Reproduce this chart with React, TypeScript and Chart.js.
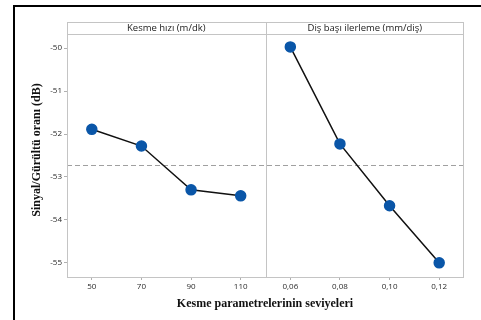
import React, { useEffect, useRef } from "react";
import { Chart, registerables } from "chart.js";

Chart.register(...registerables);

const speedLabels = ["50", "70", "90", "110"];
const feedLabels = ["0,06", "0,08", "0,10", "0,12"];
const speedSN = [-51.89, -52.28, -53.3, -53.44];
const feedSN = [-49.97, -52.23, -53.67, -55.0];
const yTicks = [-50, -51, -52, -53, -54, -55];
const panelTitles = ["Kesme hızı (m/dk)", "Diş başı ilerleme (mm/diş)"];
const xTitle = "Kesme parametrelerinin seviyeleri";
const yTitle = "Sinyal/Gürültü oranı (dB)";

const allLabels = [...speedLabels, ...feedLabels];
const allValues = [...speedSN, ...feedSN];
const mean = allValues.reduce((a, b) => a + b, 0) / allValues.length;

const panelPlugin = {
  id: "panels",
  beforeDraw(chart: any) {
    const ctx = chart.ctx;
    const { left, right } = chart.chartArea;
    ctx.save();
    ctx.fillStyle = "#fff";
    ctx.fillRect(0, 0, chart.width, chart.height);
    ctx.strokeStyle = "#000";
    ctx.lineWidth = 2;
    ctx.strokeRect(14, 6, 600, 600);
    const ym = chart.scales.y.getPixelForValue(mean);
    ctx.strokeStyle = "#a0a0a0";
    ctx.lineWidth = 1;
    ctx.setLineDash([5, 3]);
    ctx.beginPath();
    ctx.moveTo(left, Math.round(ym) + 0.5);
    ctx.lineTo(right, Math.round(ym) + 0.5);
    ctx.stroke();
    ctx.restore();
  },
  afterDraw(chart: any) {
    const ctx = chart.ctx;
    const { left, right, top, bottom } = chart.chartArea;
    const x = chart.scales.x;
    const mid = (x.getPixelForValue(speedLabels.length - 1) + x.getPixelForValue(speedLabels.length)) / 2;
    const stripTop = top - 12;
    ctx.save();
    ctx.strokeStyle = "#c4c4c4";
    ctx.lineWidth = 1;
    ctx.setLineDash([]);
    const L = Math.round(left) + 0.5;
    const R = Math.round(right) - 0.5;
    const T = Math.round(stripTop) + 0.5;
    const B = Math.round(bottom) + 0.5;
    const M = Math.round(mid) + 0.5;
    ctx.strokeRect(L, T, R - L, B - T);
    ctx.beginPath();
    ctx.moveTo(L, Math.round(top) + 0.5);
    ctx.lineTo(R, Math.round(top) + 0.5);
    ctx.moveTo(M, T);
    ctx.lineTo(M, B);
    ctx.stroke();
    ctx.fillStyle = "#1a1a1a";
    ctx.font = "9.5px 'Open Sans'";
    ctx.textAlign = "center";
    ctx.textBaseline = "middle";
    ctx.fillText(panelTitles[0], (left + mid) / 2, stripTop + 6.5);
    ctx.fillText(panelTitles[1], (mid + right) / 2, stripTop + 6.5);
    ctx.fillStyle = "#111";
    ctx.font = "bold 12px 'Liberation Serif'";
    ctx.fillText(xTitle, 265, 304);
    ctx.translate(37, 150);
    ctx.rotate(-Math.PI / 2);
    ctx.fillText(yTitle, 0, 0);
    ctx.restore();
  },
};

export default function App() {
  const ref = useRef<HTMLCanvasElement>(null);
  useEffect(() => {
    if (!ref.current) return;
    const chart = new Chart(ref.current, {
      type: "line",
      data: {
        labels: allLabels,
        datasets: [
          {
            data: [...speedSN, null, null, null, null],
            borderColor: "#111",
            borderWidth: 1.5,
            pointBackgroundColor: "#0a56a8",
            pointBorderColor: "#0a56a8",
            pointRadius: 5,
            spanGaps: false,
          },
          {
            data: [null, null, null, null, ...feedSN],
            borderColor: "#111",
            borderWidth: 1.5,
            pointBackgroundColor: "#0a56a8",
            pointBorderColor: "#0a56a8",
            pointRadius: 5,
            spanGaps: false,
          },
        ],
      },
      options: {
        responsive: false,
        animation: false,
        layout: { padding: { left: 0, right: 17, top: 34, bottom: 0 } },
        plugins: { legend: { display: false }, tooltip: { enabled: false } },
        scales: {
          x: {
            offset: true,
            border: { display: false },
            grid: { drawOnChartArea: false, tickLength: 3, color: "#b0b0b0" },
            ticks: { color: "#2a2a2a", font: { family: "Open Sans", size: 8 }, padding: 2, maxRotation: 0 },
            afterFit: (s: any) => { s.height = 43; },
          },
          y: {
            min: -55.33,
            max: -49.67,
            border: { display: false },
            grid: { drawOnChartArea: false, tickLength: 3, color: "#b0b0b0" },
            ticks: { color: "#2a2a2a", font: { family: "Open Sans", size: 8 }, padding: 2 },
            afterBuildTicks: (s: any) => { s.ticks = yTicks.map((v) => ({ value: v })); },
            afterFit: (s: any) => { s.width = 67; },
          },
        },
      },
      plugins: [panelPlugin],
    });
    return () => chart.destroy();
  }, []);
  return (
    <div style={{ position: "fixed", left: 0, top: 0, width: 481, height: 320, overflow: "hidden", background: "#fff" }}>
      <canvas ref={ref} width={481} height={320} style={{ width: 481, height: 320, display: "block" }} />
    </div>
  );
}
